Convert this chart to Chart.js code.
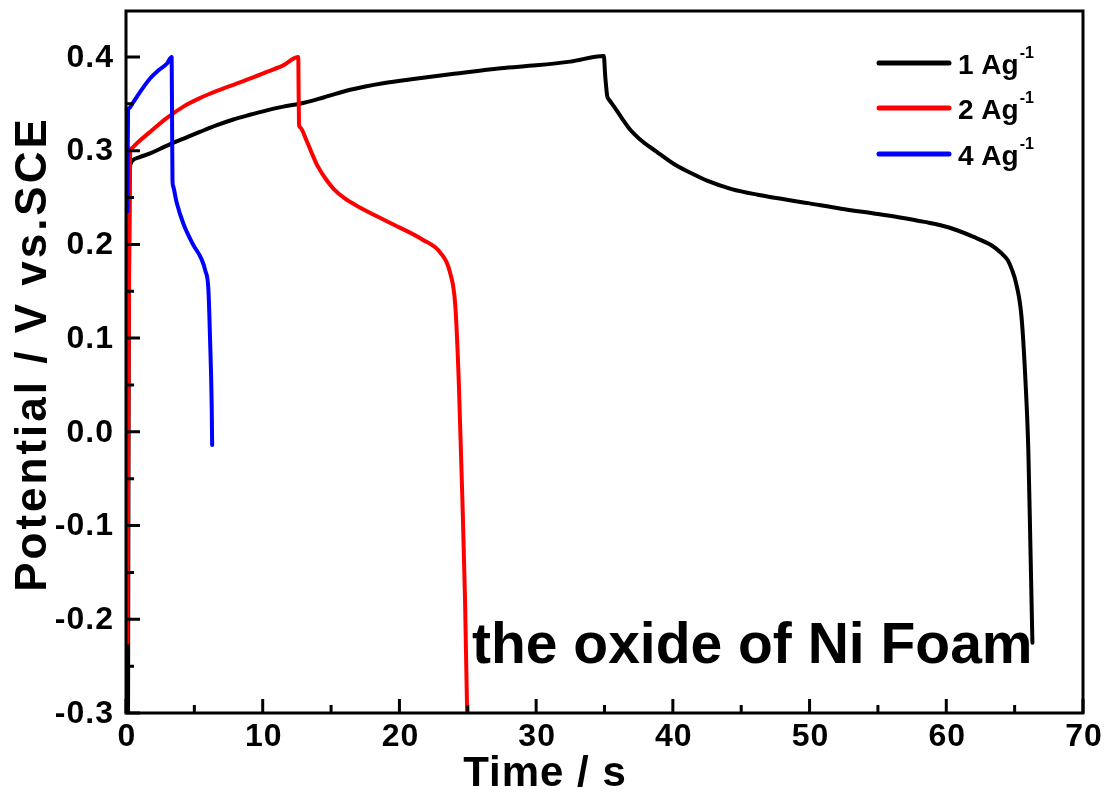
<!DOCTYPE html>
<html>
<head>
<meta charset="utf-8">
<script src="https://cdn.jsdelivr.net/npm/chart.js@4/dist/chart.umd.min.js"></script>
<style>
  html, body { margin: 0; padding: 0; background: #fff; }
  #wrap { width: 1109px; height: 798px; }
</style>
</head>
<body>
<div id="wrap"><canvas id="gcd" width="1109" height="798"></canvas></div>
<script>
// ── Data (time in s, potential in V vs SCE) ──
const time1A = [0.15, 0.2, 0.3, 0.34, 0.44, 1.0, 1.76, 2.5, 3.4, 4.4, 5.4, 6.6, 7.8, 9.0, 10.3, 11.5, 12.7,
  14.5, 16.4, 18.8, 21.3, 24.0, 27.4, 30.0, 32.5, 34.95, 35.05, 35.2, 35.25, 35.4, 35.7, 36.3, 36.9, 37.6, 38.8,
  40.05, 41.2, 42.5, 44.3, 46.2, 49.9, 52.3, 54.7, 56.5, 58.4, 60.2, 62.0, 63.3, 64.0, 64.5, 64.8,
  65.1, 65.5, 65.8, 66.0, 66.15, 66.3];
const pot1A = [-0.3, 0.1, 0.283, 0.286, 0.289, 0.293, 0.297, 0.302, 0.308, 0.314, 0.32, 0.327, 0.333, 0.338, 0.343, 0.347, 0.350,
  0.357, 0.365, 0.372, 0.377, 0.382, 0.388, 0.391, 0.395, 0.401, 0.38, 0.358, 0.356, 0.353, 0.347, 0.334, 0.322, 0.312, 0.299,
  0.286, 0.277, 0.268, 0.259, 0.253, 0.244, 0.238, 0.233, 0.229, 0.224, 0.218, 0.208, 0.199, 0.191, 0.183, 0.173,
  0.159, 0.123, 0.052, -0.019, -0.12, -0.225];

const time2A = [0.1, 0.2, 0.3, 0.35, 0.8, 1.76, 3.0, 4.2, 5.4, 6.7, 8.0, 9.1, 10.3, 11.5, 12.6, 12.63, 12.66, 12.72,
  13.2, 13.6, 14.0, 14.6, 15.2, 16.0, 16.9, 19.3, 21.7, 23.0, 23.7, 24.09, 24.35, 24.6, 24.8, 24.95, 25.05];
const pot2A = [-0.225, 0.1, 0.300, 0.302, 0.308, 0.320, 0.335, 0.347, 0.356, 0.364, 0.371, 0.377, 0.384, 0.391, 0.4, 0.36, 0.327, 0.325,
  0.311, 0.297, 0.284, 0.270, 0.259, 0.249, 0.241, 0.223, 0.205, 0.191, 0.17, 0.134, 0.05, -0.07, -0.18, -0.297, -0.33];

const time4A = [0.1, 0.15, 0.2, 0.5, 1.0, 1.76, 2.4, 3.0, 3.34, 3.37, 3.4, 3.45, 3.7, 4.2, 4.9, 5.5, 5.8, 6.03, 6.15, 6.27, 6.3];
const pot4A = [0.235, 0.343, 0.345, 0.351, 0.362, 0.377, 0.386, 0.393, 0.4, 0.33, 0.269, 0.262, 0.245, 0.222, 0.2, 0.185, 0.172, 0.151, 0.098, 0.027, -0.014];

const seriesLabels = ['1 Ag', '2 Ag', '4 Ag'];
const seriesColors = ['#000000', '#ff0000', '#0000ff'];

const xMajor = [0, 10, 20, 30, 40, 50, 60, 70];
const xMinor = [5, 15, 25, 35, 45, 55, 65];
const yMajor = [-0.3, -0.2, -0.1, 0.0, 0.1, 0.2, 0.3, 0.4];
const yMinor = [-0.25, -0.15, -0.05, 0.05, 0.15, 0.25, 0.35];

const toPts = (xs, ys) => xs.map((x, i) => ({ x, y: ys[i] }));
const FONT = '"Liberation Sans", Arial, sans-serif';

// ── Frame, inward ticks, labels, legend, annotation ──────────
const framePlugin = {
  id: 'frame',
  afterDraw(chart) {
    const { ctx, chartArea: a, scales: { x, y } } = chart;
    ctx.save();
    ctx.strokeStyle = '#000';
    ctx.fillStyle = '#000';
    ctx.lineWidth = 3;
    ctx.strokeRect(a.left, a.top, a.right - a.left, a.bottom - a.top);

    // ticks pointing into the plot
    ctx.beginPath();
    xMajor.forEach(v => { const px = x.getPixelForValue(v); ctx.moveTo(px, a.bottom); ctx.lineTo(px, a.bottom - 14); });
    xMinor.forEach(v => { const px = x.getPixelForValue(v); ctx.moveTo(px, a.bottom); ctx.lineTo(px, a.bottom - 8); });
    yMajor.forEach(v => { const py = y.getPixelForValue(v); ctx.moveTo(a.left, py); ctx.lineTo(a.left + 14, py); });
    yMinor.forEach(v => { const py = y.getPixelForValue(v); ctx.moveTo(a.left, py); ctx.lineTo(a.left + 8, py); });
    ctx.stroke();

    // tick labels
    ctx.font = 'bold 32px ' + FONT;
    ctx.letterSpacing = '1px';
    ctx.textBaseline = 'middle';
    ctx.textAlign = 'right';
    yMajor.forEach(v => ctx.fillText(v.toFixed(1), a.left - 12, y.getPixelForValue(v) + 1));
    ctx.textAlign = 'center';
    xMajor.forEach(v => ctx.fillText(String(v), x.getPixelForValue(v) + 1, a.bottom + 24));

    // axis titles
    ctx.font = 'bold 42px ' + FONT;
    ctx.letterSpacing = '1px';
    ctx.fillText('Time / s', 545, 774);
    ctx.save();
    ctx.translate(34, 354);
    ctx.rotate(-Math.PI / 2);
    ctx.font = 'bold 44px ' + FONT;
    ctx.letterSpacing = '3px';
    ctx.fillText('Potential / V vs.SCE', 0, 0);
    ctx.restore();

    // legend
    const legY = [63, 108, 154];
    seriesLabels.forEach((lab, i) => {
      ctx.strokeStyle = seriesColors[i];
      ctx.lineWidth = 5;
      ctx.lineCap = 'round';
      ctx.beginPath();
      ctx.moveTo(879, legY[i]);
      ctx.lineTo(949, legY[i]);
      ctx.stroke();
      ctx.textAlign = 'left';
      ctx.textBaseline = 'alphabetic';
      ctx.font = 'bold 28px ' + FONT;
      ctx.letterSpacing = '0px';
      ctx.fillText(lab, 958, legY[i] + 11);
      const w = ctx.measureText(lab).width;
      ctx.font = 'bold 16px ' + FONT;
      ctx.fillText('-1', 958 + w + 1, legY[i] - 5);
    });

    // annotation
    ctx.font = 'bold 57px ' + FONT;
    ctx.letterSpacing = '0px';
    ctx.textAlign = 'left';
    ctx.textBaseline = 'alphabetic';
    ctx.fillText('the oxide of Ni Foam', 472, 663);
    ctx.restore();
  }
};

const datasets = [
  { label: '1 Ag-1', data: toPts(time1A, pot1A), order: 3 },
  { label: '2 Ag-1', data: toPts(time2A, pot2A), order: 2 },
  { label: '4 Ag-1', data: toPts(time4A, pot4A), order: 1 }
].map((d, i) => Object.assign(d, {
  borderColor: seriesColors[i],
  borderWidth: 4,
  showLine: true,
  pointRadius: 0,
  cubicInterpolationMode: 'monotone',
  borderJoinStyle: 'round',
  borderCapStyle: 'round'
}));

new Chart(document.getElementById('gcd'), {
  type: 'scatter',
  data: { datasets },
  options: {
    responsive: false,
    animation: false,
    layout: { padding: { top: 11, right: 26, left: 0, bottom: 0 } },
    plugins: { legend: { display: false }, tooltip: { enabled: false } },
    scales: {
      x: {
        type: 'linear', min: 0, max: 70,
        grid: { display: false }, border: { display: false },
        ticks: { display: false },
        afterFit: s => { s.height = 85; }
      },
      y: {
        type: 'linear', min: -0.3, max: 0.449,
        grid: { display: false }, border: { display: false },
        ticks: { display: false },
        afterFit: s => { s.width = 126; }
      }
    }
  },
  plugins: [framePlugin]
});
</script>
</body>
</html>
